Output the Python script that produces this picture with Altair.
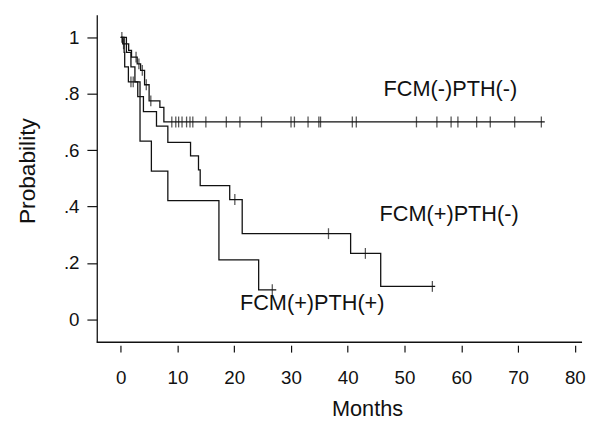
import altair as alt
import pandas as pd

# ---------------- data ----------------
groups = ["FCM(-)PTH(-)", "FCM(+)PTH(-)", "FCM(+)PTH(+)"]

# FCM(-)PTH(-)
a_times = [0.35, 1.4, 1.9, 2.9, 3.5, 4.2, 5.0, 6.9, 7.6]
a_surv = [0.977, 0.954, 0.930, 0.906, 0.883, 0.832, 0.775, 0.752, 0.700]
a_end = 74.7
a_cens = [0.2, 0.5, 2.7, 3.2, 3.8, 4.5, 5.3, 9.0, 9.7, 10.2, 10.8, 11.6, 12.2,
          12.7, 15.0, 18.6, 21.0, 24.8, 30.0, 30.6, 33.0, 34.9, 35.2, 40.8,
          41.5, 52.1, 55.7, 58.2, 59.4, 62.7, 65.1, 69.4, 74.1]

# FCM(+)PTH(-)
b_times = [1.0, 1.8, 2.5, 3.0, 4.0, 6.3, 8.3, 12.3, 13.7, 14.0, 19.2, 21.4, 40.5, 45.8]
b_surv = [0.947, 0.895, 0.842, 0.790, 0.737, 0.685, 0.628, 0.580, 0.530, 0.474,
          0.425, 0.304, 0.234, 0.117]
b_end = 55.4
b_cens = [20.1, 36.6, 43.1, 54.9]

# FCM(+)PTH(+)
c_times = [0.6, 0.7, 1.35, 3.4, 5.4, 8.3, 17.3, 24.3]
c_surv = [0.947, 0.895, 0.842, 0.632, 0.526, 0.421, 0.211, 0.105]
c_end = 27.4
c_cens = [1.8, 2.2, 26.7]

x_ticks = list(range(0, 81, 5))
y_ticks = [round(i / 10, 1) for i in range(0, 11)]

# ---------------- build tables ----------------
def step_rows(name, times, surv, end):
    rows = [{"group": name, "t": 0.0, "s": 1.0}]
    for t, s in zip(times, surv):
        rows.append({"group": name, "t": t, "s": s})
    rows.append({"group": name, "t": end, "s": surv[-1]})
    return rows

def surv_at(times, surv, t):
    s = 1.0
    for ti, si in zip(times, surv):
        if ti <= t:
            s = si
    return s

curves = (step_rows(groups[0], a_times, a_surv, a_end)
          + step_rows(groups[1], b_times, b_surv, b_end)
          + step_rows(groups[2], c_times, c_surv, c_end))
lines_df = pd.DataFrame(curves)

cens_rows = []
for name, times, surv, cens in [(groups[0], a_times, a_surv, a_cens),
                                (groups[1], b_times, b_surv, b_cens),
                                (groups[2], c_times, c_surv, c_cens)]:
    for t in cens:
        cens_rows.append({"group": name, "t": t, "s": surv_at(times, surv, t)})
cens_df = pd.DataFrame(cens_rows)

labels_df = pd.DataFrame({
    "label": groups,
    "t": [46.3, 45.6, 21.0],
    "s": [0.815, 0.374, 0.058],
})

# ---------------- chart ----------------
x_dom = [-4.22, 81.27]
y_dom = [-0.081, 1.080]
FONT = "Liberation Sans"
INK = "#111111"

x_scale = alt.Scale(domain=x_dom, nice=False, zero=False)
y_scale = alt.Scale(domain=y_dom, nice=False, zero=False)

x_axis = alt.Axis(
    values=x_ticks,
    labelExpr="datum.value % 10 === 0 ? datum.label : ''",
    tickSize={"condition": {"test": "datum.value % 10 === 0", "value": 7}, "value": 4},
    domain=False, offset=3, grid=False,
    tickColor=INK, tickWidth=1.2,
    labelFont=FONT, labelFontSize=19, labelColor=INK, labelPadding=17,
    labelOverlap=False, labelFlush=False,
    title="Months", titleFont=FONT, titleFontSize=22, titleFontWeight="normal",
    titleColor=INK, titleX=274, titleY=71, titleBaseline="alphabetic", titleAlign="center",
)
y_axis = alt.Axis(
    values=y_ticks,
    labelExpr="round(datum.value*10) % 2 === 0 ? replace(format(datum.value, '.1~f'), '0.', '.') : ''",
    tickSize={"condition": {"test": "round(datum.value*10) % 2 === 0", "value": 10}, "value": 5},
    domain=True, domainColor=INK, domainWidth=1.3, grid=False,
    tickColor=INK, tickWidth=1.2,
    labelFont=FONT, labelFontSize=19, labelColor=INK, labelPadding=8,
    labelOverlap=False, labelFlush=False,
    title="Probability", titleFont=FONT, titleFontSize=23, titleFontWeight="normal",
    titleColor=INK, titleAngle=270, titleX=-63, titleY=158,
    titleBaseline="alphabetic", titleAlign="center",
)

lines = alt.Chart(lines_df).mark_line(
    interpolate="step-after", color=INK, strokeWidth=1.3
).encode(
    x=alt.X("t:Q", scale=x_scale, axis=x_axis),
    y=alt.Y("s:Q", scale=y_scale, axis=y_axis),
    detail="group:N",
)

marks = alt.Chart(cens_df).mark_tick(
    orient="vertical", size=11, thickness=1.3, color=INK
).encode(
    x=alt.X("t:Q", scale=x_scale),
    y=alt.Y("s:Q", scale=y_scale),
)

texts = alt.Chart(labels_df).mark_text(
    align="left", baseline="middle", font=FONT, fontSize=22, color=INK
).encode(
    x=alt.X("t:Q", scale=x_scale),
    y=alt.Y("s:Q", scale=y_scale),
    text="label:N",
)

base_line = alt.Chart(alt.Data(values=[{}])).mark_rule(
    color=INK, strokeWidth=1.3
).encode(
    x=alt.datum(x_dom[0], scale=x_scale),
    x2=alt.datum(x_dom[1]),
    y=alt.datum(y_dom[0], scale=y_scale),
)

chart = alt.layer(lines, marks, texts, base_line).properties(
    width=492, height=332,
    padding={"left": 90, "top": 4, "right": 4, "bottom": 80},
    autosize=alt.AutoSizeParams(type="none"),
    background="white",
).configure_view(stroke=None)

chart.save("out.html", embed_options={"renderer": "svg", "actions": False})
